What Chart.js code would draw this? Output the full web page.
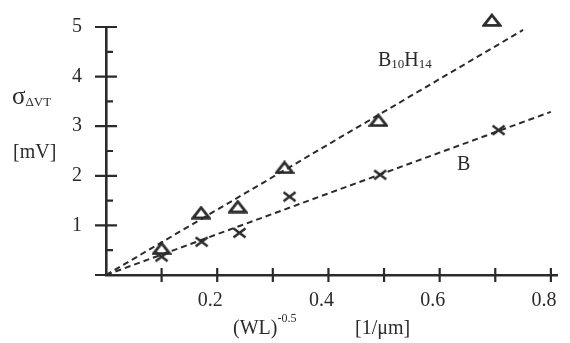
<!DOCTYPE html>
<html>
<head>
<meta charset="utf-8">
<script src="https://cdn.jsdelivr.net/npm/chart.js@4"></script>
<style>
  html, body { margin: 0; background: #fff; }
  #wrap { width: 570px; height: 343px; }
</style>
</head>
<body>
<div id="wrap"><canvas id="chart"></canvas></div>
<script>
const b10h14X = [0.100, 0.171, 0.237, 0.321, 0.490, 0.694];
const b10h14Y = [0.54, 1.26, 1.38, 2.17, 3.12, 5.14];
const boronX  = [0.100, 0.172, 0.240, 0.330, 0.493, 0.706];
const boronY  = [0.37, 0.67, 0.85, 1.58, 2.02, 2.92];

// dashed fit lines (through the origin)
const fitB10h14X = [0, 0.75];
const fitB10h14Y = [0, 4.94];
const fitBoronX  = [0, 0.80];
const fitBoronY  = [0, 3.29];

// axes
const xTicks      = [0.1, 0.2, 0.3, 0.4, 0.5, 0.6, 0.7, 0.8];
const xTickLabels = ['', '0.2', '', '0.4', '', '0.6', '', '0.8'];
const yTicks      = [0, 1, 2, 3, 4, 5];
const yTickLabels = ['', '1', '2', '3', '4', '5'];
const yMinorTicks = [0.5, 1.5, 2.5, 3.5, 4.5];

const INK   = '#2b2b2b';
const SERIF = '"Liberation Serif", "DejaVu Serif", serif';

const pts = (xs, ys) => xs.map((x, i) => ({ x, y: ys[i] }));

// open flat triangle marker
function triangleMarker() {
    const c = document.createElement('canvas');
    c.width = 20; c.height = 14;
    const g = c.getContext('2d');
    g.strokeStyle = INK;
    g.lineWidth = 2.8;
    g.lineJoin = 'miter';
    g.beginPath();
    g.moveTo(10, 2);
    g.lineTo(18, 12.3);
    g.lineTo(2, 12.3);
    g.closePath();
    g.stroke();
    return c;
}

// slightly wide "x" marker
function crossMarker() {
    const c = document.createElement('canvas');
    c.width = 15; c.height = 12;
    const g = c.getContext('2d');
    g.strokeStyle = INK;
    g.lineWidth = 2.5;
    g.beginPath();
    g.moveTo(1.5, 1.5); g.lineTo(13.5, 10.5);
    g.moveTo(13.5, 1.5); g.lineTo(1.5, 10.5);
    g.stroke();
    return c;
}

// text with sub / superscript runs: [text, size, dy]
function drawRuns(ctx, x, y, runs) {
    ctx.save();
    ctx.fillStyle = INK;
    ctx.textBaseline = 'alphabetic';
    ctx.textAlign = 'left';
    runs.forEach(([t, size, dy]) => {
        ctx.font = size + 'px ' + SERIF;
        ctx.fillText(t, x, y + dy);
        x += ctx.measureText(t).width;
    });
    ctx.restore();
}

const decorations = {
    id: 'decorations',
    afterDraw(chart) {
        const ctx = chart.ctx;
        const xs = chart.scales.x, ys = chart.scales.y;
        const x0 = xs.getPixelForValue(0), y0 = ys.getPixelForValue(0);
        ctx.save();
        ctx.strokeStyle = INK;
        ctx.lineWidth = 2.2;
        ctx.beginPath();
        yTicks.forEach(v => {
            const py = ys.getPixelForValue(v);
            ctx.moveTo(x0 - 11, py); ctx.lineTo(x0 + 11, py);
        });
        yMinorTicks.forEach(v => {
            const py = ys.getPixelForValue(v);
            ctx.moveTo(x0, py); ctx.lineTo(x0 + 7, py);
        });
        xTicks.forEach(v => {
            const px = xs.getPixelForValue(v);
            ctx.moveTo(px, y0 - 7); ctx.lineTo(px, y0 + 7);
        });
        ctx.stroke();
        ctx.restore();

        // axis titles
        drawRuns(ctx, 12, 104, [['σ', 25, 0], ['ΔVT', 13, 2]]);
        drawRuns(ctx, 13, 158, [['[mV]', 20, 0]]);
        drawRuns(ctx, 233, 334, [['(WL)', 20, 0], ['-0.5', 12, -12]]);
        drawRuns(ctx, 355, 334, [['[1/μm]', 20, 0]]);

        // curve labels
        drawRuns(ctx, 378, 66, [['B', 20, 0], ['10', 13, 2], ['H', 20, 0], ['14', 13, 2]]);
        drawRuns(ctx, 457, 170, [['B', 20, 0]]);
    }
};

new Chart(document.getElementById('chart'), {
    type: 'scatter',
    data: {
        datasets: [
            {
                label: 'B10H14 fit',
                type: 'line',
                data: pts(fitB10h14X, fitB10h14Y),
                borderColor: INK,
                borderWidth: 2,
                borderDash: [6, 4],
                pointRadius: 0,
                fill: false,
                clip: false,
            },
            {
                label: 'B fit',
                type: 'line',
                data: pts(fitBoronX, fitBoronY),
                borderColor: INK,
                borderWidth: 2,
                borderDash: [6, 4],
                pointRadius: 0,
                fill: false,
                clip: false,
            },
            {
                label: 'B10H14',
                data: pts(b10h14X, b10h14Y),
                pointStyle: triangleMarker(),
                pointRadius: 12,
                clip: false,
            },
            {
                label: 'B',
                data: pts(boronX, boronY),
                pointStyle: crossMarker(),
                pointRadius: 12,
                clip: false,
            },
        ]
    },
    options: {
        responsive: true,
        maintainAspectRatio: false,
        animation: false,
        layout: { padding: { left: 0, right: 7, top: 27, bottom: 0 } },
        plugins: { legend: { display: false }, tooltip: { enabled: false } },
        scales: {
            x: {
                type: 'linear',
                min: 0,
                max: 0.811,
                afterFit: s => {
                    s.height = 68;
                    s.paddingLeft = 0; s.paddingRight = 0;
                },
                afterBuildTicks: s => { s.ticks = xTicks.map(v => ({ value: v })); },
                grid: { display: false, drawTicks: false },
                border: { display: true, color: INK, width: 2.6 },
                ticks: {
                    color: INK,
                    font: { family: SERIF, size: 20 },
                    padding: 14,
                    labelOffset: -7,
                    maxRotation: 0,
                    autoSkip: false,
                    callback: (v, i) => xTickLabels[i],
                },
            },
            y: {
                type: 'linear',
                min: 0,
                max: 5,
                afterFit: s => {
                    s.width = 106;
                    s.paddingTop = 0; s.paddingBottom = 0;
                },
                afterBuildTicks: s => { s.ticks = yTicks.map(v => ({ value: v })); },
                grid: { display: false, drawTicks: false },
                border: { display: true, color: INK, width: 2.6 },
                ticks: {
                    color: INK,
                    font: { family: SERIF, size: 20 },
                    padding: 24,
                    autoSkip: false,
                    callback: (v, i) => yTickLabels[i],
                },
            },
        },
    },
    plugins: [decorations],
});
</script>
</body>
</html>
